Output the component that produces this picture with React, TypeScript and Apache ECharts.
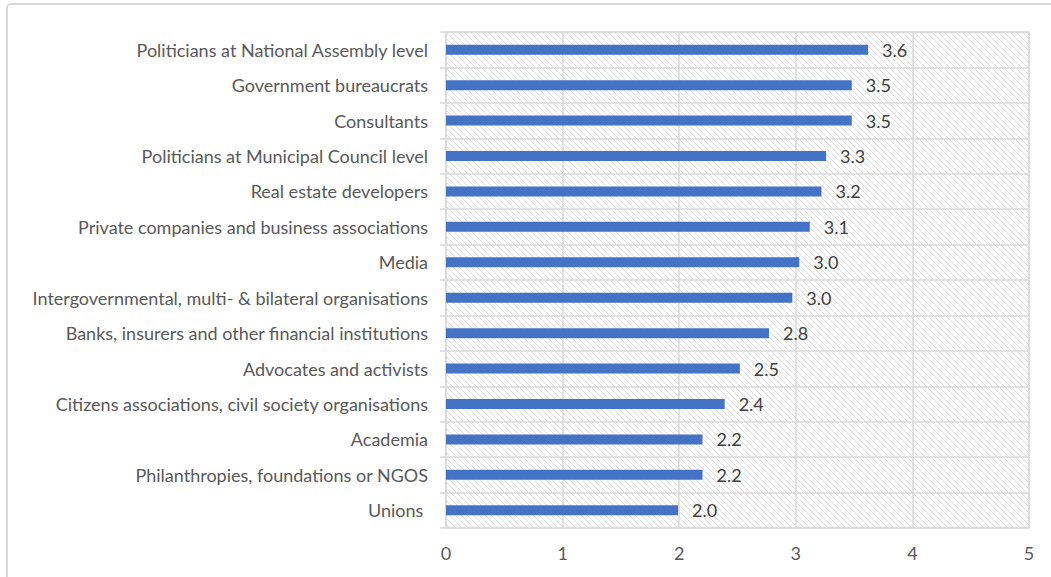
import React, { useEffect, useRef } from "react";
import * as echarts from "echarts";

const categories = [
  "Politicians at National Assembly level",
  "Government bureaucrats",
  "Consultants",
  "Politicians at Municipal Council level",
  "Real estate developers",
  "Private companies and business associations",
  "Media",
  "Intergovernmental, multi- & bilateral organisations",
  "Banks, insurers and other financial institutions",
  "Advocates and activists",
  "Citizens associations, civil society organisations",
  "Academia",
  "Philanthropies, foundations or NGOS",
  "Unions ",
];
const values = [3.62, 3.48, 3.48, 3.26, 3.22, 3.12, 3.03, 2.97, 2.77, 2.52, 2.39, 2.2, 2.2, 1.99];
const xTicks = [0, 1, 2, 3, 4, 5];

function makeHatch() {
  const s = 6;
  const c = document.createElement("canvas");
  c.width = s;
  c.height = s;
  const ctx = c.getContext("2d")!;
  ctx.fillStyle = "#ffffff";
  ctx.fillRect(0, 0, s, s);
  ctx.strokeStyle = "#e0e0e0";
  ctx.lineWidth = 1;
  ctx.beginPath();
  ctx.moveTo(-1, -1);
  ctx.lineTo(s + 1, s + 1);
  ctx.moveTo(-s / 2 - 1, s / 2 - 1);
  ctx.lineTo(s / 2 + 1, s + s / 2 + 1);
  ctx.moveTo(s / 2 - 1, -s / 2 - 1);
  ctx.lineTo(s + s / 2 + 1, s / 2 + 1);
  ctx.stroke();
  return c;
}

export default function App() {
  const ref = useRef<HTMLDivElement>(null);
  useEffect(() => {
    document.body.style.margin = "0";
    const chart = echarts.init(ref.current!, null, { renderer: "svg" });
    const font = "Lato, 'Open Sans', sans-serif";
    chart.setOption({
      animation: false,
      backgroundColor: "#ffffff",
      graphic: [
        {
          type: "rect",
          shape: { x: 7, y: 4, width: 1100, height: 600, r: 4 },
          style: { fill: "none", stroke: "#d9d9d9", lineWidth: 2 },
          silent: true,
        },
      ],
      grid: {
        left: 446,
        top: 32,
        width: 583,
        height: 496,
        show: true,
        backgroundColor: { image: makeHatch(), repeat: "repeat", imageWidth: 6, imageHeight: 6 },
        borderColor: "#d9d9d9",
        borderWidth: 1,
      },
      xAxis: {
        type: "value",
        min: 0,
        max: 5,
        interval: 1,
        axisLine: { show: false },
        axisTick: { show: false },
        axisLabel: {
          color: "#595959",
          fontSize: 18,
          fontFamily: font,
          margin: 16,
          formatter: (v: number) => (xTicks.includes(v) ? String(v) : ""),
        },
        splitLine: { show: true, lineStyle: { color: "#d9d9d9", width: 1.5 } },
      },
      yAxis: {
        type: "category",
        data: categories,
        inverse: true,
        axisLine: { show: true, lineStyle: { color: "#d9d9d9", width: 1.5 } },
        axisTick: { show: true, length: 6, lineStyle: { color: "#d9d9d9", width: 1.5 } },
        axisLabel: { color: "#595959", fontSize: 18, fontFamily: font, margin: 18 },
        splitLine: { show: true, lineStyle: { color: "#d9d9d9", width: 1.5 } },
      },
      series: [
        {
          type: "bar",
          data: values,
          barWidth: 10,
          itemStyle: { color: "#4472c4" },
          label: {
            show: true,
            position: "right",
            distance: 14,
            color: "#404040",
            fontSize: 18,
            fontFamily: font,
            formatter: (p: any) => Number(p.value).toFixed(1),
          },
        },
      ],
    });
    return () => chart.dispose();
  }, []);
  return (
    <div
      ref={ref}
      style={{ position: "fixed", left: 0, top: 0, width: 1051, height: 577, background: "#fff" }}
    />
  );
}
